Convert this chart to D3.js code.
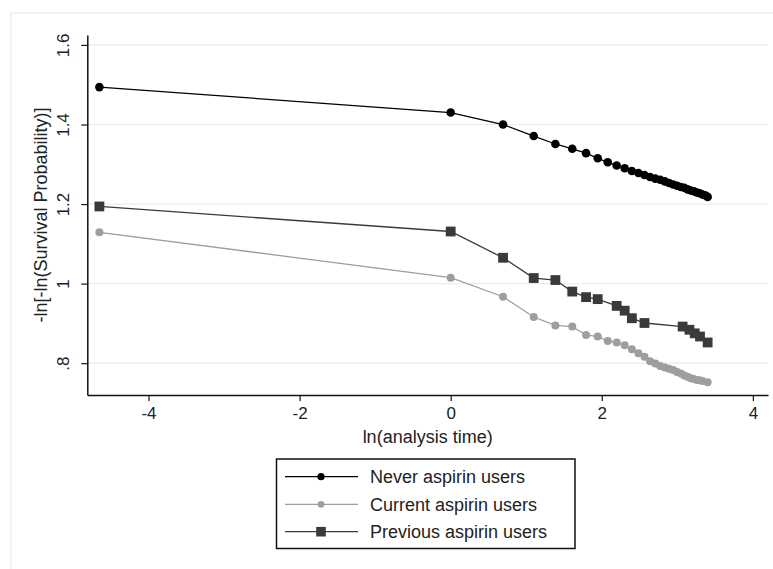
<!DOCTYPE html>
<html>
<head>
<meta charset="utf-8">
<script src="https://cdn.jsdelivr.net/npm/d3@7"></script>
<style>
  html, body { margin: 0; padding: 0; background: #fff; }
  svg { display: block; font-family: Arial, "Liberation Sans", sans-serif; }
</style>
</head>
<body>
<svg id="chart" width="773" height="569"></svg>
<script>
// ln(analysis time) values for each group
const neverX = [-4.65, 0, 0.693, 1.099, 1.386, 1.609, 1.792, 1.946, 2.079, 2.197, 2.303, 2.398, 2.485,
  2.565, 2.639, 2.708, 2.773, 2.833, 2.890, 2.944, 2.996, 3.045, 3.091, 3.135, 3.178, 3.219, 3.258,
  3.296, 3.332, 3.367, 3.401];
const neverY = [1.494, 1.430, 1.400, 1.371, 1.351, 1.339, 1.328, 1.315, 1.305, 1.297, 1.290, 1.283, 1.278,
  1.273, 1.268, 1.264, 1.261, 1.257, 1.253, 1.249, 1.246, 1.243, 1.241, 1.237, 1.234, 1.232, 1.229,
  1.227, 1.224, 1.222, 1.218];

const currentX = [-4.65, 0, 0.693, 1.099, 1.386, 1.609, 1.792, 1.946, 2.079, 2.197, 2.303, 2.398, 2.485,
  2.565, 2.639, 2.708, 2.773, 2.833, 2.890, 2.944, 2.996, 3.045, 3.091, 3.135, 3.178, 3.219, 3.258,
  3.296, 3.332, 3.401];
const currentY = [1.129, 1.015, 0.967, 0.916, 0.895, 0.892, 0.871, 0.867, 0.856, 0.852, 0.845, 0.835, 0.825,
  0.816, 0.805, 0.799, 0.793, 0.789, 0.786, 0.783, 0.778, 0.774, 0.769, 0.766, 0.762, 0.760, 0.758,
  0.757, 0.755, 0.752];

const previousX = [-4.65, 0, 0.693, 1.099, 1.386, 1.609, 1.792, 1.946, 2.197, 2.303, 2.398, 2.565,
  3.070, 3.160, 3.230, 3.300, 3.401];
const previousY = [1.194, 1.131, 1.065, 1.014, 1.009, 0.980, 0.966, 0.961, 0.944, 0.932, 0.913, 0.901,
  0.892, 0.884, 0.875, 0.867, 0.852];

const xTicks = [-4, -2, 0, 2, 4];
const yTicks = [0.8, 1, 1.2, 1.4, 1.6];
const yTickLabels = [".8", "1", "1.2", "1.4", "1.6"];
const seriesNames = ["Never aspirin users", "Current aspirin users", "Previous aspirin users"];

const svg = d3.select("#chart");

// light frame around the graph region
svg.append("rect")
  .attr("x", 11).attr("y", 13).attr("width", 800).attr("height", 600)
  .attr("fill", "none").attr("stroke", "#e6e6e6").attr("stroke-width", 1);

const x = d3.scaleLinear().domain([-4.81, 4.2]).range([87.3, 768]);
const y = d3.scaleLinear().domain([0.72, 1.625]).range([395, 35]);

// horizontal grid
svg.append("g")
  .selectAll("line")
  .data(yTicks)
  .join("line")
  .attr("x1", x(-4.81)).attr("x2", x(4.2))
  .attr("y1", d => y(d)).attr("y2", d => y(d))
  .attr("stroke", "#ebebeb").attr("stroke-width", 1.2);

// axes
const xAxis = d3.axisBottom(x).tickValues(xTicks).tickSizeInner(6).tickSizeOuter(0).tickPadding(6)
  .tickFormat(d => d < 0 ? "-" + Math.abs(d) : String(d));
const gx = svg.append("g").attr("transform", `translate(0,${y(0.72)})`).call(xAxis);
gx.select(".domain").attr("stroke", "#111").attr("stroke-width", 1.5);
gx.selectAll(".tick line").attr("stroke", "#111").attr("stroke-width", 1.2);
gx.selectAll(".tick text").attr("font-size", 17).attr("fill", "#222")
  .attr("font-family", "Arial, 'Liberation Sans', sans-serif");

const yAxis = d3.axisLeft(y).tickValues(yTicks).tickSizeInner(6).tickSizeOuter(0)
  .tickFormat((d, i) => yTickLabels[i]);
const gy = svg.append("g").attr("transform", `translate(${x(-4.81)},0)`).call(yAxis);
gy.select(".domain").attr("stroke", "#111").attr("stroke-width", 1.5);
gy.selectAll(".tick line").attr("stroke", "#111").attr("stroke-width", 1.2);
gy.selectAll(".tick text")
  .attr("font-size", 17).attr("fill", "#222")
  .attr("font-family", "Arial, 'Liberation Sans', sans-serif")
  .attr("x", null).attr("dy", null)
  .attr("text-anchor", "middle")
  .attr("transform", "translate(-23,0) rotate(-90)")
  .attr("dominant-baseline", "middle");

// axis titles
svg.append("text")
  .attr("x", (x(-4.81) + x(4.2)) / 2).attr("y", 443)
  .attr("text-anchor", "middle").attr("font-size", 18).attr("fill", "#222")
  .text("ln(analysis time)");
svg.append("text")
  .attr("transform", `translate(47,${(y(0.72) + y(1.625)) / 2}) rotate(-90)`)
  .attr("text-anchor", "middle").attr("font-size", 18).attr("fill", "#222")
  .text("-ln[-ln(Survival Probability)]");

const line = d3.line().x(d => x(d[0])).y(d => y(d[1]));

const series = [
  { name: seriesNames[0], xs: neverX, ys: neverY, color: "#000000", shape: "circle", r: 4.3 },
  { name: seriesNames[1], xs: currentX, ys: currentY, color: "#9e9e9e", shape: "circle", r: 4.0 },
  { name: seriesNames[2], xs: previousX, ys: previousY, color: "#3a3a3a", shape: "square", r: 4.9 }
];

series.forEach(s => {
  const pts = s.xs.map((v, i) => [v, s.ys[i]]);
  svg.append("path").datum(pts)
    .attr("d", line).attr("fill", "none")
    .attr("stroke", s.color).attr("stroke-width", 1.3);
  const g = svg.append("g");
  if (s.shape === "circle") {
    g.selectAll("circle").data(pts).join("circle")
      .attr("cx", d => x(d[0])).attr("cy", d => y(d[1])).attr("r", s.r)
      .attr("fill", s.color);
  } else {
    g.selectAll("rect").data(pts).join("rect")
      .attr("x", d => x(d[0]) - s.r).attr("y", d => y(d[1]) - s.r)
      .attr("width", s.r * 2).attr("height", s.r * 2)
      .attr("fill", s.color);
  }
});

// legend
const legend = svg.append("g");
legend.append("rect")
  .attr("x", 276.5).attr("y", 459).attr("width", 298.5).attr("height", 89.5)
  .attr("fill", "#fff").attr("stroke", "#111").attr("stroke-width", 1.5);
const rowY = [476.7, 504.3, 531.7];
const legendR = [3.6, 3.4, 4.8];
series.forEach((s, i) => {
  const ry = rowY[i];
  legend.append("line")
    .attr("x1", 285).attr("x2", 358).attr("y1", ry).attr("y2", ry)
    .attr("stroke", s.color).attr("stroke-width", 1.3);
  if (s.shape === "circle") {
    legend.append("circle").attr("cx", 321).attr("cy", ry).attr("r", legendR[i]).attr("fill", s.color);
  } else {
    legend.append("rect").attr("x", 321 - legendR[i]).attr("y", ry - legendR[i])
      .attr("width", legendR[i] * 2).attr("height", legendR[i] * 2).attr("fill", s.color);
  }
  legend.append("text")
    .attr("x", 370).attr("y", ry).attr("dy", "0.35em")
    .attr("font-size", 18).attr("fill", "#222")
    .text(s.name);
});
</script>
</body>
</html>
